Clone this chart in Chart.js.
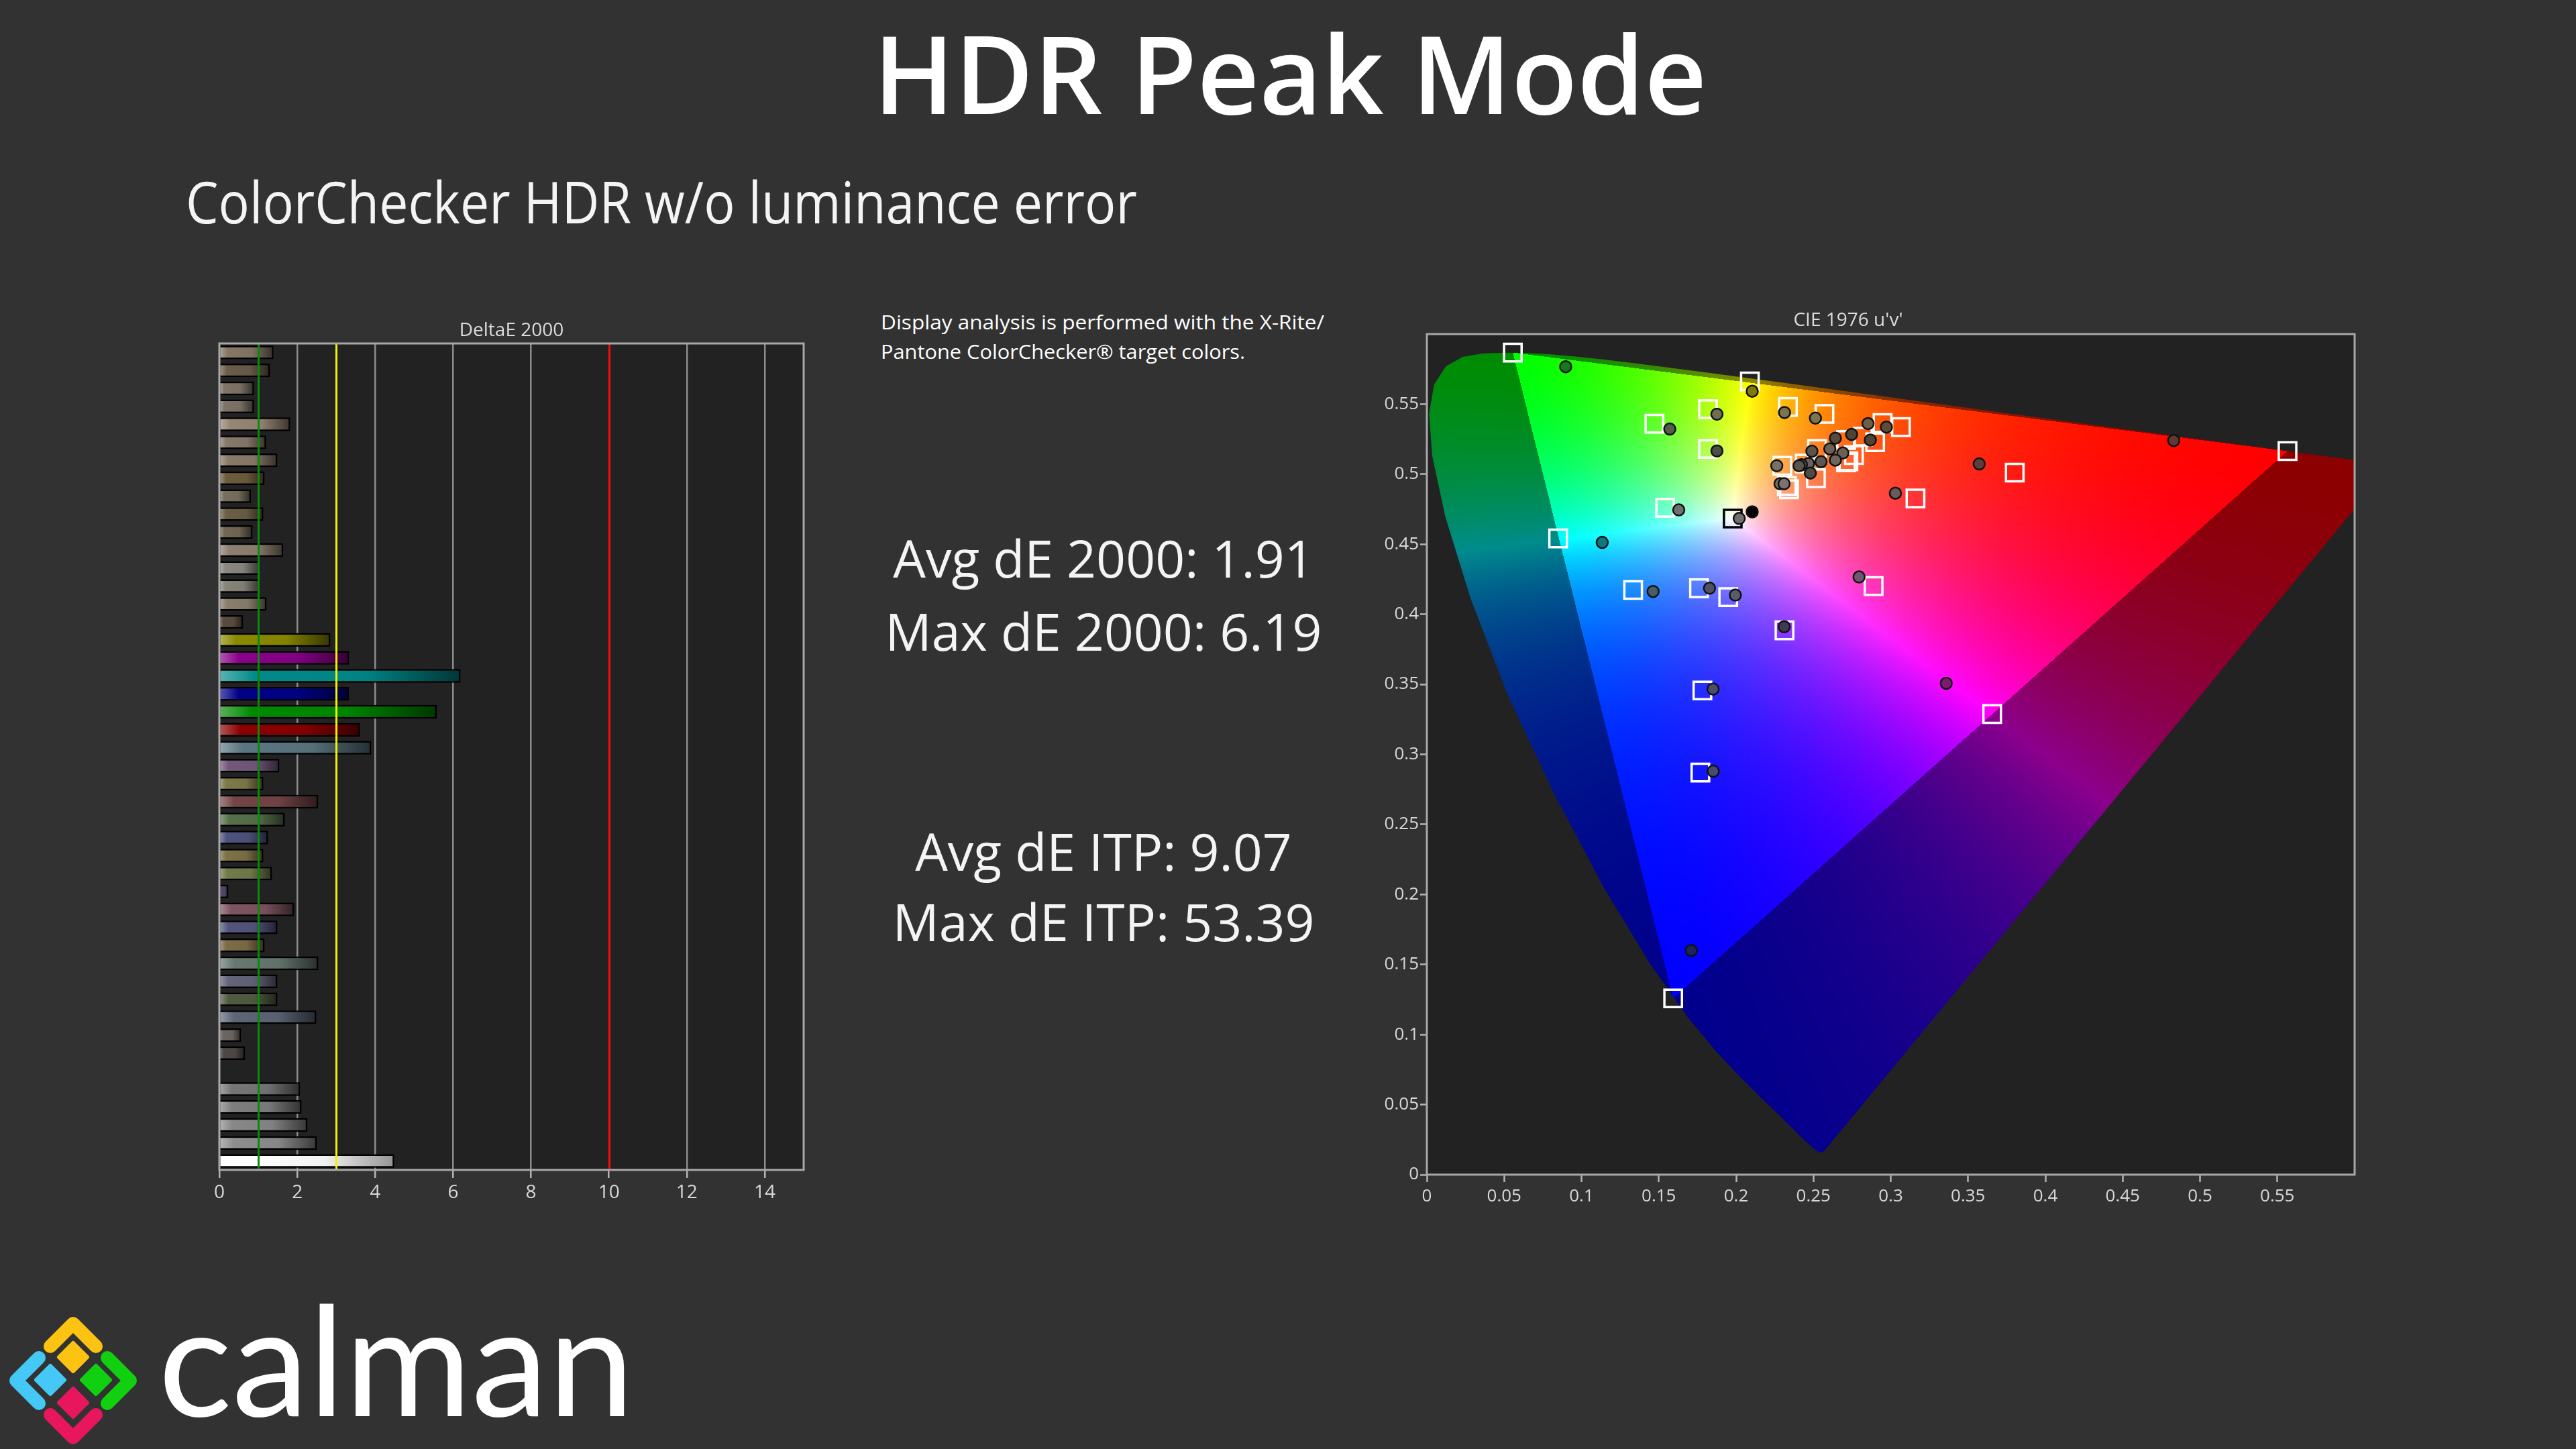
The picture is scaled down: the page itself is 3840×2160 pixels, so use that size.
<!DOCTYPE html>
<html><head><meta charset="utf-8">
<script src="https://cdn.jsdelivr.net/npm/chart.js@4.4.1/dist/chart.umd.min.js"></script>
<style>
html,body{margin:0;padding:0;background:#323232;width:3840px;height:2160px;overflow:hidden}
.box{position:absolute}
svg.overlay{position:absolute;left:0;top:0}
</style></head><body>
<svg class="overlay" width="3840" height="2160" xmlns="http://www.w3.org/2000/svg">
  <text x="1923" y="170" text-anchor="middle" font-family="Open Sans" font-weight="600" font-size="161" fill="#ffffff">HDR Peak Mode</text>
  <text x="277" y="333" font-family="Open Sans" font-size="86" fill="#f4f4f4" textLength="1418" lengthAdjust="spacingAndGlyphs">ColorChecker HDR w/o luminance error</text>
  <text x="1313" y="491" font-family="Open Sans" font-size="29" fill="#ffffff" textLength="661" lengthAdjust="spacingAndGlyphs">Display analysis is performed with the X-Rite/</text>
  <text x="1313" y="535" font-family="Open Sans" font-size="29" fill="#ffffff" textLength="543" lengthAdjust="spacingAndGlyphs">Pantone ColorChecker® target colors.</text>
  <text x="1645" y="861" text-anchor="middle" font-family="Open Sans" font-size="77" fill="#f4f4f4">Avg dE 2000: 1.91</text>
  <text x="1645" y="970" text-anchor="middle" font-family="Open Sans" font-size="77" fill="#f4f4f4">Max dE 2000: 6.19</text>
  <text x="1645" y="1298" text-anchor="middle" font-family="Open Sans" font-size="77" fill="#f4f4f4">Avg dE ITP: 9.07</text>
  <text x="1645" y="1403" text-anchor="middle" font-family="Open Sans" font-size="77" fill="#f4f4f4">Max dE ITP: 53.39</text>
  <g fill="none" stroke-width="20" stroke-linecap="round" stroke-linejoin="round">
    <polyline points="75,2007 109,1973 143,2007" stroke="#fdc312"/>
    <polyline points="58,2024 24,2058 58,2092" stroke="#45c8f5"/>
    <polyline points="160,2024 194,2058 160,2092" stroke="#10d010"/>
    <polyline points="75,2109 109,2143 143,2109" stroke="#e8175d"/>
  </g>
  <g stroke-width="6" stroke-linejoin="round">
    <polygon points="109,2002 130,2023 109,2044 88,2023" fill="#fdc312" stroke="#fdc312"/>
    <polygon points="75,2036 96,2057 75,2078 54,2057" fill="#45c8f5" stroke="#45c8f5"/>
    <polygon points="143,2036 164,2057 143,2078 122,2057" fill="#10d010" stroke="#10d010"/>
    <polygon points="109,2070 130,2091 109,2112 88,2091" fill="#e8175d" stroke="#e8175d"/>
  </g>
  <text x="236" y="2111" font-family="Lato" font-size="227" fill="#ffffff" textLength="709" lengthAdjust="spacingAndGlyphs">calman</text>
</svg>
<div class="box" style="left:240px;top:476px;width:1040px;height:1380px"><canvas id="bar" width="1040" height="1380"></canvas></div>
<div class="box" style="left:2000px;top:461px;width:1570px;height:1389px"><canvas id="cie" width="1570" height="1389"></canvas></div>
<script>
// ---------- DeltaE 2000 bar chart data ----------
const barCategories = ['1','2','3','4','5','6','7','8','9','10','11','12','13','14','15','16','17','18','19','20','21','22','23','24','25','26','27','28','29','30','31','32','33','34','35','36','37','38','39','40','41','42','43','44','45','46'];
const barValues = [1.39,1.30,0.89,0.89,1.82,1.20,1.49,1.16,0.81,1.13,0.85,1.64,1.03,1.03,1.21,0.61,
  2.85,3.33,6.19,3.33,5.58,3.61,
  3.90,1.54,1.13,2.54,1.68,1.25,1.13,1.35,0.23,1.92,1.49,1.16,2.54,1.49,1.49,2.49,0.56,0.66,
  null,2.07,2.11,2.26,2.50,4.49];
const barColors = ['#867766','#6b5d4a','#807466','#7d7366','#968675','#87796a','#8a7a68','#6e5c3e','#78705f','#6b5f45','#716753','#8e8070','#8a8680','#87847a','#8a7f6f','#5a4c3e',
  '#8a8a00','#8a008a','#008a8a','#00008a','#008a00','#8a0000',
  '#5a7680','#74587a','#7e7a48','#744446','#56704a','#4e527e','#7e7248','#707c4a','#564668','#7e5460','#54547e','#7e6c48','#667870','#64647a','#505c40','#5c6676','#6e6662','#504a46',
  '#444444','#767676','#7e7e7e','#888888','#8e8e8e','#ffffff'];
const barTicks = [0,2,4,6,8,10,12,14];
const refValues = [1,3,10];
const refColors = ['#0a8a0a','#f2f200','#ff0a0a'];

// ---------- CIE 1976 u'v' data ----------
const cieTicks = [0,0.05,0.1,0.15,0.2,0.25,0.3,0.35,0.4,0.45,0.5,0.55];
const targetU = [0.0556,0.2089,0.1818,0.2335,0.2571,0.1472,0.2947,0.3066,0.1818,0.2899,0.2820,0.2711,0.2762,0.2523,0.2726,0.2299,0.2444,0.2516,0.2328,0.2342,0.2711,0.3160,0.3802,0.1541,0.0849,0.1978,0.1334,0.1760,0.1949,0.2889,0.2313,0.1782,0.3656,0.1769,0.1593,0.5566];
const targetV = [0.5868,0.5662,0.5464,0.5480,0.5430,0.5360,0.5365,0.5336,0.5180,0.5228,0.5268,0.5244,0.5136,0.5180,0.5092,0.5060,0.5076,0.4971,0.4916,0.4892,0.5084,0.4827,0.5011,0.4760,0.4541,0.4683,0.4173,0.4186,0.4122,0.4201,0.3885,0.3456,0.3288,0.2870,0.1258,0.5165];
const targetStroke = targetU.map((u,i)=> i===25 ? '#000000' : '#ffffff');
const measuredU = [0.0898,0.2104,0.1876,0.2313,0.2513,0.1571,0.2853,0.2972,0.2747,0.2642,0.2868,0.1876,0.2490,0.2606,0.2690,0.2642,0.2549,0.2468,0.2422,0.2407,0.2263,0.2480,0.2284,0.2310,0.3030,0.3572,0.4830,0.1629,0.2104,0.2020,0.1134,0.1463,0.1828,0.1995,0.2795,0.2311,0.1851,0.3359,0.1852,0.1710];
const measuredV = [0.5767,0.5592,0.5428,0.5440,0.5400,0.5322,0.5361,0.5336,0.5284,0.5257,0.5244,0.5166,0.5164,0.5180,0.5151,0.5100,0.5089,0.5076,0.5068,0.5060,0.5060,0.5008,0.4932,0.4932,0.4864,0.5073,0.5240,0.4745,0.4731,0.4684,0.4513,0.4163,0.4186,0.4137,0.4266,0.3911,0.3466,0.3507,0.2880,0.1600];
const measuredFill = ['#167a16','#807a08','#6e6e50','#7a7450','#7a7450','#545d48','#6e5e46','#5c4c3a','#4e4436','#554a3c','#4e4436','#4b5046','#5a544a','#6a6258','#6a6056','#6e665c','#5e5850','#6a625a','#5a5450','#5a544e','#7a7068','#504a44','#787068','#7a7470','#6a5a5c','#5c4038','#5e3a36','#6c706e','#000000','#707070','#0a7a80','#4a5c66','#4e5260','#5a5c68','#6e5870','#3e3a50','#4a4e6e','#7e1a74','#484c6c','#1e2458'];
const gamutU = [0.5566,0.0556,0.1593];   // Rec.2020 R,G,B
const gamutV = [0.5165,0.5868,0.1258];
const locusX = [0.1741,0.1740,0.1738,0.1736,0.1733,0.1730,0.1726,0.1721,0.1714,0.1703,0.1689,0.1669,0.1644,0.1611,0.1566,0.1510,0.1440,0.1355,0.1241,0.1096,0.0913,0.0687,0.0454,0.0235,0.0082,0.0039,0.0139,0.0389,0.0743,0.1142,0.1547,0.1929,0.2296,0.2658,0.3016,0.3373,0.3731,0.4087,0.4441,0.4788,0.5125,0.5448,0.5752,0.6029,0.6270,0.6482,0.6658,0.6801,0.6915,0.7006,0.7079,0.7140,0.7190,0.7230,0.7260,0.7283,0.7300,0.7311,0.7320,0.7347];
const locusY = [0.0050,0.0050,0.0049,0.0049,0.0048,0.0048,0.0048,0.0048,0.0051,0.0058,0.0069,0.0086,0.0109,0.0138,0.0177,0.0227,0.0297,0.0399,0.0578,0.0868,0.1327,0.2007,0.2950,0.4127,0.5384,0.6548,0.7502,0.8120,0.8338,0.8262,0.8059,0.7816,0.7543,0.7243,0.6923,0.6589,0.6245,0.5896,0.5547,0.5202,0.4866,0.4544,0.4242,0.3965,0.3725,0.3514,0.3340,0.3197,0.3083,0.2993,0.2920,0.2859,0.2809,0.2770,0.2740,0.2717,0.2700,0.2689,0.2680,0.2653];

// ---------- helpers ----------
Chart.defaults.font.family = "'Open Sans', sans-serif";
function hexRgb(h){const n=parseInt(h.slice(1),16);return [(n>>16)&255,(n>>8)&255,n&255];}
function mix(h,t,f){const c=hexRgb(h);return 'rgb('+c.map((v,i)=>Math.round(v+(t[i]-v)*f)).join(',')+')';}
function framePlugin(color){return {id:'frame',
  beforeDraw(chart){const {ctx,chartArea:a}=chart;ctx.save();ctx.fillStyle='#222222';ctx.fillRect(a.left,a.top,a.right-a.left,a.bottom-a.top);ctx.restore();},
  afterDraw(chart){const {ctx,chartArea:a}=chart;ctx.save();ctx.strokeStyle=color;ctx.lineWidth=3;ctx.strokeRect(a.left,a.top,a.right-a.left,a.bottom-a.top);ctx.restore();}};}
const fmt = v => String(Math.round(v*100)/100);

// ---------- bar chart ----------
const refLinesPlugin = {id:'refLines', afterDatasetsDraw(chart){
  const {ctx,chartArea:a,scales:{x}}=chart; ctx.save(); ctx.lineWidth=3;
  refValues.forEach((v,i)=>{const px=Math.round(x.getPixelForValue(v))+0.5;ctx.strokeStyle=refColors[i];ctx.beginPath();ctx.moveTo(px,a.top);ctx.lineTo(px,a.bottom);ctx.stroke();});
  ctx.restore();}};
new Chart(document.getElementById('bar'),{
  type:'bar',
  data:{labels:barCategories,datasets:[{data:barValues,
    backgroundColor:(c)=>{
      const base=barColors[c.dataIndex]||'#808080';
      const ch=c.chart; if(c.type!=='data'||!ch.chartArea||c.raw==null) return base;
      const xs=ch.scales.x; const x0=xs.getPixelForValue(0), x1=xs.getPixelForValue(c.raw);
      if(!(x1>x0)) return base;
      const g=ch.ctx.createLinearGradient(x0,0,x1,0);
      g.addColorStop(0,mix(base,[255,255,255],0.35));
      g.addColorStop(0.15,mix(base,[255,255,255],0.0));
      g.addColorStop(0.6,mix(base,[0,0,0],0.05));
      g.addColorStop(1,mix(base,[0,0,0],base==='#ffffff'?0.42:0.6));
      return g;},
    borderColor:'#000000',borderWidth:2.5,barPercentage:0.76,categoryPercentage:1.0}]},
  options:{responsive:false,animation:false,indexAxis:'y',
    layout:{padding:{left:87,right:82,top:0,bottom:0}},
    plugins:{legend:{display:false},tooltip:{enabled:false},
      title:{display:true,text:'DeltaE 2000',color:'#dcdcdc',font:{size:28,weight:'normal',lineHeight:1.2},padding:{top:0,bottom:2.4}}},
    scales:{
      x:{type:'linear',min:0,max:15,
        afterBuildTicks:s=>{s.ticks=barTicks.map(v=>({value:v}));},
        afterFit:s=>{s.height=112;},
        grid:{color:c=>(c.tick&&(c.tick.value===0||c.tick.value===10))?'rgba(0,0,0,0)':'#8c8c8c',lineWidth:2.5,drawTicks:true,tickLength:12,tickColor:'#b4b4b4',tickWidth:2.5},
        border:{display:false},
        ticks:{color:'#d8d8d8',font:{size:28},padding:5,maxRotation:0,autoSkip:false,callback:v=>fmt(v)}},
      y:{type:'category',display:false,grid:{display:false}}
    }},
  plugins:[framePlugin('#a8a8a8'),refLinesPlugin]
});

// ---------- CIE chart ----------
const locusU = locusX.map((x,i)=>4*x/(-2*x+12*locusY[i]+3));
const locusV = locusX.map((x,i)=>9*locusY[i]/(-2*x+12*locusY[i]+3));
function inTri(u,v){
  const s=(i,j)=>(gamutU[j]-gamutU[i])*(v-gamutV[i])-(gamutV[j]-gamutV[i])*(u-gamutU[i]);
  const a=s(0,1),b=s(1,2),c=s(2,0);
  return (a>=0&&b>=0&&c>=0)||(a<=0&&b<=0&&c<=0);}
const gamutPlugin={id:'gamut',beforeDatasetsDraw(chart){
  const {ctx,chartArea:a,scales:{x:xs,y:ys}}=chart;
  const w=Math.ceil(a.right-a.left),h=Math.ceil(a.bottom-a.top);
  if(!chart.$gamutImg){
    const cv=document.createElement('canvas');cv.width=w;cv.height=h;
    const g=cv.getContext('2d');const img=g.createImageData(w,h);const d=img.data;
    for(let py=0;py<h;py++){
      const v=ys.getValueForPixel(a.top+py+0.5);
      for(let px=0;px<w;px++){
        const u=xs.getValueForPixel(a.left+px+0.5);
        const den=6*u-16*v+12; const x=9*u/den, y=4*v/den;
        if(y<=0.0001) continue;
        const X=x/y,Y=1,Z=(1-x-y)/y;
        let r=1.7166512*X-0.3556708*Y-0.2533663*Z, gg=-0.6666844*X+1.6164812*Y+0.0157685*Z, b=0.0176399*X-0.0427706*Y+0.9421031*Z;
        r=Math.max(r,0);gg=Math.max(gg,0);b=Math.max(b,0);
        const m=Math.max(r,gg,b)||1; r=Math.pow(r/m,1.4);gg=Math.pow(gg/m,1.4);b=Math.pow(b/m,1.4);
        const f=inTri(u,v)?1:0.55;
        const k=(py*w+px)*4;
        d[k]=255*r*f;d[k+1]=255*gg*f;d[k+2]=255*b*f;d[k+3]=255;
      }}
    g.putImageData(img,0,0);chart.$gamutImg=cv;}
  ctx.save();
  ctx.beginPath();ctx.rect(a.left,a.top,a.right-a.left,a.bottom-a.top);ctx.clip();
  ctx.beginPath();
  locusU.forEach((u,i)=>{const px=xs.getPixelForValue(u),py=ys.getPixelForValue(locusV[i]);if(i)ctx.lineTo(px,py);else ctx.moveTo(px,py);});
  ctx.closePath();ctx.clip();
  ctx.drawImage(chart.$gamutImg,a.left,a.top,w,h);
  ctx.restore();}};
const axisCommon={type:'linear',min:0,max:0.6,
  afterBuildTicks:s=>{s.ticks=cieTicks.map(v=>({value:v}));},
  border:{display:false},
  ticks:{color:'#d8d8d8',font:{size:26},autoSkip:false,maxRotation:0,callback:v=>fmt(v)}};
new Chart(document.getElementById('cie'),{
  type:'scatter',
  data:{datasets:[
    {data:measuredU.map((u,i)=>({x:u,y:measuredV[i]})),pointStyle:'circle',pointRadius:8.5,pointBorderWidth:2.5,pointBorderColor:'#111111',pointBackgroundColor:measuredFill},
    {data:targetU.map((u,i)=>({x:u,y:targetV[i]})),pointStyle:'rect',pointRadius:18.5,pointBorderWidth:3.5,pointBorderColor:targetStroke,pointBackgroundColor:'rgba(0,0,0,0)'}
  ]},
  options:{responsive:false,animation:false,
    layout:{padding:{left:0,right:60,top:0,bottom:0}},
    plugins:{legend:{display:false},tooltip:{enabled:false},
      title:{display:true,text:"CIE 1976 u'v'",color:'#dcdcdc',font:{size:28,weight:'normal',lineHeight:1.2},padding:{top:0,bottom:3.4}}},
    scales:{
      x:Object.assign({},axisCommon,{afterFit:s=>{s.height=99;},
        grid:{drawOnChartArea:false,drawTicks:true,tickLength:11,tickColor:'#b4b4b4',tickWidth:2.5},
        ticks:Object.assign({},axisCommon.ticks,{padding:6})}),
      y:Object.assign({},axisCommon,{afterFit:s=>{s.width=127;},
        grid:{drawOnChartArea:false,drawTicks:true,tickLength:10,tickColor:'#b4b4b4',tickWidth:2.5},
        ticks:Object.assign({},axisCommon.ticks,{padding:2})})
    }},
  plugins:[framePlugin('#a8a8a8'),gamutPlugin]
});
</script>
</body></html>
